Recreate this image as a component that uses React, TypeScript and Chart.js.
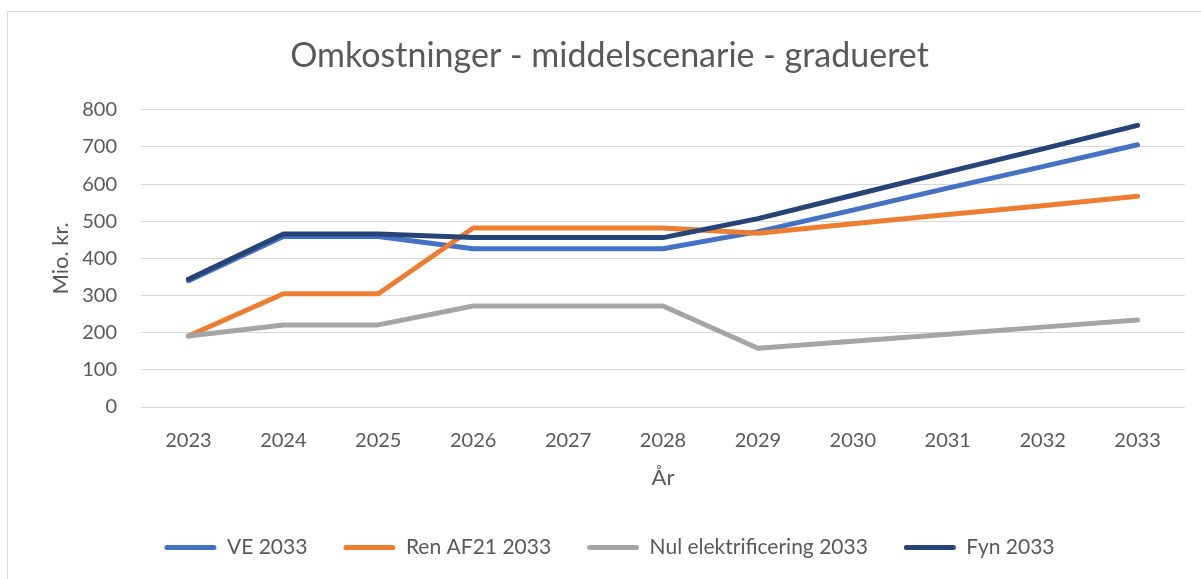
import React, { useEffect, useRef } from "react";
import { Chart, registerables } from "chart.js";

Chart.register(...registerables);

const years = ["2023", "2024", "2025", "2026", "2027", "2028", "2029", "2030", "2031", "2032", "2033"];
const ve2033 = [340, 459, 459, 426, 426, 426, 472, 530, 589, 647, 706];
const renAF21 = [191, 305, 305, 482, 482, 482, 468, 493, 518, 542, 567];
const nulElek = [191, 221, 221, 272, 272, 272, 158, 177, 196, 215, 234];
const fyn2033 = [344, 466, 466, 456, 456, 456, 507, 570, 633, 695, 758];
const seriesNames = ["VE 2033", "Ren AF21 2033", "Nul elektrificering 2033", "Fyn 2033"];
const seriesColors = ["#4472C4", "#ED7D31", "#A5A5A5", "#264478"];
const yTicks = [0, 100, 200, 300, 400, 500, 600, 700, 800];

const FONT = "Lato, 'Open Sans', sans-serif";
const TXT = "#595959";

export default function App() {
  const ref = useRef<HTMLCanvasElement>(null);
  useEffect(() => {
    if (!ref.current) return;
    const all = [ve2033, renAF21, nulElek, fyn2033];
    const chart = new Chart(ref.current, {
      type: "line",
      data: {
        labels: years,
        datasets: all.map((d, i) => ({
          label: seriesNames[i],
          data: d,
          borderColor: seriesColors[i],
          backgroundColor: seriesColors[i],
          borderWidth: 5,
          pointRadius: 0,
          pointHoverRadius: 0,
          tension: 0,
          borderCapStyle: "round" as const,
          borderJoinStyle: "round" as const,
          order: 4 - i,
        })),
      },
      options: {
        responsive: false,
        animation: false,
        layout: { padding: { left: 34, right: 27, top: 0, bottom: 11 } },
        plugins: {
          title: {
            display: true,
            text: "Omkostninger - middelscenarie - gradueret",
            color: TXT,
            font: { family: FONT, size: 34, weight: "normal" },
            padding: { top: 36, bottom: 33 },
          },
          legend: {
            position: "bottom",
            labels: {
              color: TXT,
              font: { family: FONT, size: 21 },
              boxWidth: 52,
              boxHeight: 5,
              padding: 36,
              sort: (a: any, b: any) => a.datasetIndex - b.datasetIndex,
              generateLabels: (c: any) =>
                c.data.datasets.map((ds: any, i: number) => ({
                  text: ds.label,
                  fillStyle: seriesColors[i],
                  strokeStyle: seriesColors[i],
                  lineWidth: 0,
                  borderRadius: 2.5,
                  fontColor: TXT,
                  hidden: false,
                  datasetIndex: i,
                })),
            },
          },
          tooltip: { enabled: false },
        },
        scales: {
          x: {
            offset: true,
            grid: { display: false, drawTicks: false },
            border: { display: false },
            ticks: { color: TXT, font: { family: FONT, size: 20 }, padding: 22, maxRotation: 0 },
            title: {
              display: true,
              text: "År",
              color: TXT,
              font: { family: FONT, size: 22 },
              padding: { top: 0, bottom: 10 },
            },
            afterFit: (s: any) => {
              s.height = 94;
            },
          },
          y: {
            min: 0,
            max: 800,
            grid: { color: "#d9d9d9", lineWidth: 1, drawTicks: false },
            border: { display: false },
            afterBuildTicks: (s: any) => {
              s.ticks = yTicks.map((v) => ({ value: v }));
            },
            ticks: { color: TXT, font: { family: FONT, size: 20 }, padding: 24 },
            title: {
              display: true,
              text: "Mio. kr.",
              color: TXT,
              font: { family: FONT, size: 22 },
              padding: { top: 14, bottom: 0 },
            },
            afterFit: (s: any) => {
              s.width = 107;
            },
          },
        },
      },
    });
    return () => chart.destroy();
  }, []);
  return (
    <div style={{ position: "absolute", left: 0, top: 0, width: 1201, height: 579, overflow: "hidden", background: "#fff" }}>
      <div
        style={{
          position: "absolute",
          left: 7,
          top: 11,
          width: 1230,
          height: 600,
          border: "1px solid #d9d9d9",
        }}
      />
      <canvas ref={ref} width={1212} height={579} style={{ position: "absolute", left: 0, top: 0, width: 1212, height: 579 }} />
    </div>
  );
}
